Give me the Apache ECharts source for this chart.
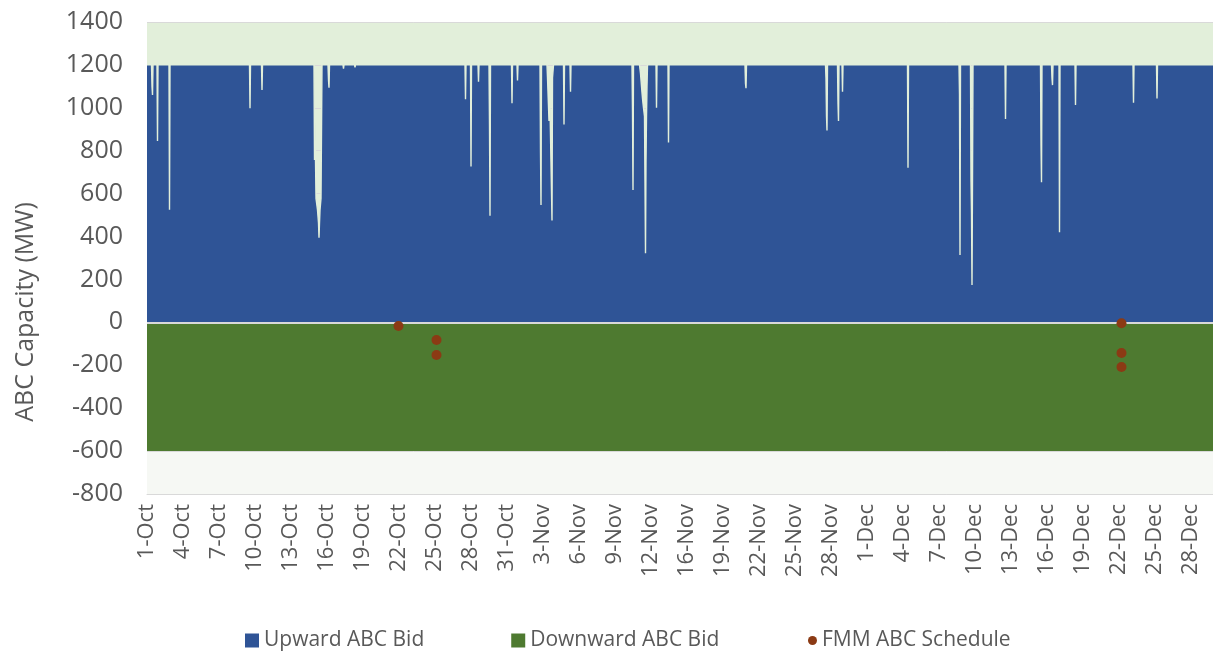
<!DOCTYPE html>
<html>
<head>
<meta charset="utf-8">
<title>ABC Capacity</title>
<script src="https://cdn.jsdelivr.net/npm/echarts@6/dist/echarts.min.js"></script>
<style>
  html, body { margin: 0; padding: 0; background: #fff; }
  #chart { width: 1213px; height: 655px; }
</style>
</head>
<body>
<div id="chart"></div>
<script>
// x axis is the hourly interval index of the data (labels every 72 intervals)
const totalHours = 2132;
const labelStep = 72;
const xLabels = [
  '1-Oct', '4-Oct', '7-Oct', '10-Oct', '13-Oct', '16-Oct', '19-Oct', '22-Oct', '25-Oct', '28-Oct', '31-Oct',
  '3-Nov', '6-Nov', '9-Nov', '12-Nov', '16-Nov', '19-Nov', '22-Nov', '25-Nov', '28-Nov',
  '1-Dec', '4-Dec', '7-Dec', '10-Dec', '13-Dec', '16-Dec', '19-Dec', '22-Dec', '25-Dec', '28-Dec'
];
const yTicks = [-800, -600, -400, -200, 0, 200, 400, 600, 800, 1000, 1200, 1400];

// upward bid sits at 1200 MW except for these hours [hour index, MW]
const upwardBid = 1200;
const upwardDips = [
  [10, 1100], [11, 1060], [21, 845], [45, 525], [206, 998], [230, 1083],
  [335, 757], [336, 943], [337, 943], [338, 578], [339, 578], [340, 578], [341, 524], [342, 524],
  [343, 463], [344, 395], [345, 463], [346, 524], [347, 524], [348, 578], [349, 578],
  [363, 1130], [364, 1094], [393, 1182], [416, 1188],
  [637, 1040], [648, 726], [663, 1122], [685, 920], [686, 497], [730, 1021], [741, 1127],
  [787, 795], [788, 547],
  [801, 1140], [802, 1140], [803, 1140], [804, 939], [805, 1140], [806, 1140], [807, 1140],
  [808, 1140], [809, 1140], [810, 475], [811, 1140], [812, 1140],
  [834, 922], [847, 1075], [971, 980], [972, 617],
  [986, 1180], [987, 1160], [988, 1130], [989, 1100], [990, 1070], [991, 1044], [992, 1020],
  [993, 1000], [994, 980], [995, 960], [996, 959], [997, 322], [998, 749], [999, 960], [1000, 1100],
  [1019, 1000], [1043, 838], [1197, 1114], [1198, 1091],
  [1358, 1137], [1359, 962], [1360, 894], [1382, 1021], [1383, 939], [1391, 1075],
  [1522, 721], [1625, 1063], [1626, 314],
  [1648, 664], [1649, 508], [1650, 174], [1651, 664],
  [1717, 948], [1788, 830], [1789, 653], [1810, 1137], [1811, 1106], [1825, 420],
  [1857, 1013], [1973, 1024], [2020, 1044]
];

const downwardBid = -600;

const fmmSchedule = [
  [503, -17], [579, -82], [579, -152],
  [1949, -4], [1949, -143], [1949, -208]
];

const colors = {
  up: '#2F5496',
  down: '#4E7A30',
  fmm: '#8B3A14',
  bandTop: '#E2EFDA',
  bandBottom: '#F6F8F4',
  text: '#595959',
  grid: '#D9D9D9'
};

// build the upward line: each dip returns to the base value at its neighbours
function buildUpward() {
  const dipMap = new Map(upwardDips);
  const pts = [[0, upwardBid]];
  const hours = upwardDips.map(d => d[0]).sort((a, b) => a - b);
  hours.forEach(h => {
    if (!dipMap.has(h - 1)) pts.push([h - 1, upwardBid]);
    pts.push([h, dipMap.get(h)]);
    if (!dipMap.has(h + 1)) pts.push([h + 1, upwardBid]);
  });
  pts.push([totalHours, upwardBid]);
  return pts;
}

const chart = echarts.init(document.getElementById('chart'), null, { renderer: 'canvas' });

const option = {
  animation: false,
  textStyle: { fontFamily: 'Open Sans', color: colors.text },
  grid: { left: 147, right: 0, top: 22, bottom: 161, containLabel: false },
  graphic: [
    {
      type: 'text',
      x: 26,
      y: 312,
      rotation: Math.PI / 2,
      style: {
        text: 'ABC Capacity (MW)',
        fontFamily: 'Open Sans',
        fontSize: 25,
        fill: colors.text,
        align: 'center',
        verticalAlign: 'middle'
      }
    }
  ],
  legend: [
    {
      data: ['Upward ABC Bid', 'Downward ABC Bid'],
      left: 240,
      top: 625,
      icon: 'rect',
      itemWidth: 14,
      itemHeight: 14,
      itemGap: 87,
      selectedMode: false,
      textStyle: { fontSize: 21, color: colors.text, fontFamily: 'Open Sans' }
    },
    {
      data: ['FMM ABC Schedule'],
      left: 803,
      top: 625,
      icon: 'circle',
      itemWidth: 9,
      itemHeight: 9,
      selectedMode: false,
      textStyle: { fontSize: 21, color: colors.text, fontFamily: 'Open Sans' }
    }
  ],
  xAxis: {
    type: 'value',
    min: 0,
    max: totalHours,
    interval: labelStep,
    axisLine: { show: true, onZero: false, lineStyle: { color: colors.grid } },
    axisTick: { show: false },
    splitLine: { show: false },
    axisLabel: {
      rotate: 90,
      fontSize: 22,
      color: colors.text,
      margin: 10,
      showMaxLabel: false,
      formatter: function (v) {
        if (v % labelStep !== 0) return '';
        return xLabels[v / labelStep] || '';
      }
    }
  },
  yAxis: {
    type: 'value',
    min: yTicks[0],
    max: yTicks[yTicks.length - 1],
    interval: 200,
    z: 1.5,
    axisLine: { show: false },
    axisTick: { show: false },
    axisLabel: {
      fontSize: 25,
      color: colors.text,
      margin: 24,
      formatter: function (v) { return String(v); }
    },
    splitLine: { lineStyle: { color: colors.grid, width: 1 } }
  },
  series: [
    {
      name: 'Upward ABC Bid',
      type: 'line',
      data: buildUpward(),
      showSymbol: false,
      symbol: 'none',
      itemStyle: { color: colors.up },
      // pale outline so the one-hour dips read as thin light strokes
      lineStyle: { color: colors.bandTop, width: 1.4 },
      areaStyle: { color: colors.up, opacity: 1 },
      z: 2,
      markArea: {
        silent: true,
        itemStyle: { opacity: 1 },
        data: [
          [{ yAxis: 0, itemStyle: { color: colors.bandTop } }, { yAxis: yTicks[yTicks.length - 1] }],
          [{ yAxis: yTicks[0], itemStyle: { color: colors.bandBottom } }, { yAxis: 0 }]
        ]
      }
    },
    {
      name: 'Downward ABC Bid',
      type: 'line',
      data: [[0, downwardBid], [totalHours, downwardBid]],
      showSymbol: false,
      symbol: 'none',
      itemStyle: { color: colors.down },
      lineStyle: { width: 0 },
      areaStyle: { color: colors.down, opacity: 1 },
      z: 2,
      markLine: {
        silent: true,
        symbol: 'none',
        label: { show: false },
        lineStyle: { color: colors.grid, width: 2, type: 'solid' },
        data: [{ yAxis: 0 }]
      }
    },
    {
      name: 'FMM ABC Schedule',
      type: 'scatter',
      data: fmmSchedule,
      symbol: 'circle',
      symbolSize: 10,
      itemStyle: { color: colors.fmm, opacity: 1 },
      z: 6
    }
  ]
};

chart.setOption(option);
</script>
</body>
</html>
